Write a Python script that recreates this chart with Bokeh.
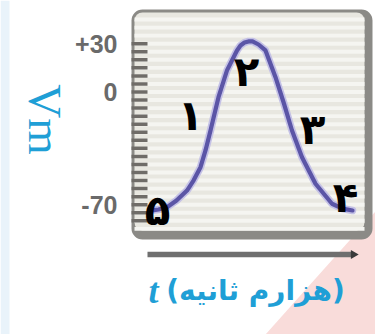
import math
from bokeh.plotting import figure
from bokeh.models import Range1d
from bokeh.core.properties import value
from bokeh.embed import file_html
from bokeh.resources import INLINE

# ---- data ----
TIME_MS = [0.04, 0.16, 0.33, 0.52, 0.73, 0.86, 1.00, 1.10, 1.20, 1.36, 1.53, 1.73,
           1.80, 1.88, 1.96, 2.04, 2.16, 2.30, 2.50, 2.67, 2.83, 3.03, 3.30, 3.63,
           3.84, 4.04]
POTENTIAL_MV = [-73.5, -73.0, -71.6, -67.4, -61.2, -55.0, -46.7, -36.3, -23.9, -3.2,
                13.4, 25.8, 28.9, 30.7, 31.4, 31.4, 29.5, 25.8, 9.2, -7.3, -23.9,
                -40.5, -57.0, -69.4, -72.4, -73.6]

Y_LABELED_TICKS = [30, 0, -70]
Y_TICK_LABELS = ["+30", "0", "-70"]
Y_MINOR_TICKS = list(range(-80, 35, 5))
STRIPES_MV = list(range(-85, 50, 5))

PHASE_LABELS = ["۱", "۲", "۳", "۴", "۵"]
PHASE_T = [0.80, 1.92, 3.24, 3.90, 0.14]
PHASE_MV = [-14.6, 12.7, -23.3, -65.5, -73.6]

Y_TITLE = "Vm"
X_TITLE_VAR = "t"
X_TITLE_UNIT = "(هزارم ثانیه)"

# ---- layout constants (data units) ----
X_MIN, X_MAX = -3.0, 4.5
Y_MIN, Y_MAX = -150.62, 56.83
BOX_L, BOX_R, BOX_T, BOX_B = -0.38, 4.44, 51.2, -91.6
IN_L, IN_R, IN_T, IN_B = -0.32, 4.28, 49.4, -86.0
TICK_X0, TICK_X1 = -0.38, -0.06
TICKLABEL_X = -0.66
AXIS_Y = -100.9
TITLE_Y = -123.3
CYAN = "#1f9fd6"

p = figure(width=375, height=334,
           x_range=Range1d(X_MIN, X_MAX), y_range=Range1d(Y_MIN, Y_MAX),
           output_backend="svg", toolbar_location=None,
           x_axis_location=None, y_axis_location=None,
           min_border_left=0, min_border_right=0, min_border_top=0,
           min_border_bottom=0)
p.outline_line_color = None
p.grid.visible = False
p.background_fill_color = "white"
p.border_fill_color = "white"

# pale page edge on the left and pink corner at bottom right
p.quad(left=[X_MIN], right=[-2.82], top=[Y_MAX], bottom=[Y_MIN],
       fill_color="#e9f3fa", line_color=None)
p.patch(x=[X_MAX, X_MAX, 2.30], y=[-74.2, Y_MIN, Y_MIN],
        fill_color="#f9dcda", line_color=None)

# framed box
p.quad(left=[BOX_L], right=[BOX_R], top=[BOX_T], bottom=[BOX_B],
       fill_color="#8b8a86", line_color=None, border_radius=11)
p.quad(left=[IN_L], right=[IN_R], top=[IN_T], bottom=[IN_B],
       fill_color="#e8e7e0", line_color=None, border_radius=8)
p.hbar(y=STRIPES_MV, left=IN_L, right=IN_R, height=2.4,
       fill_color="#f5f5f1", line_color=None)

# y ticks inside the box and their labels
p.segment(x0=TICK_X0, x1=TICK_X1, y0=Y_MINOR_TICKS, y1=Y_MINOR_TICKS,
          line_width=3.5, line_color="#6f6c68")
p.text(x=TICKLABEL_X, y=Y_LABELED_TICKS, text=Y_TICK_LABELS,
       text_font=value("Liberation Sans"), text_font_style="bold",
       text_font_size="25px", text_align="right", text_baseline="middle",
       text_color="#6a6a6a")

# time axis line with arrow
p.line(x=[-0.06, 4.02], y=[AXIS_Y, AXIS_Y], line_width=5.5, line_color="#6f6f6f")
p.scatter(x=[4.06], y=[AXIS_Y], marker="triangle", angle=-math.pi / 2,
          size=9, fill_color="#3a3a3a", line_color=None)

# action potential curve
p.line(TIME_MS, POTENTIAL_MV, line_width=7.5, line_color="#c4c1e6",
       line_join="round", line_cap="round")
p.line(TIME_MS, POTENTIAL_MV, line_width=4.2, line_color="#5b55a6",
       line_join="round", line_cap="round")

# phase numbers
p.text(x=PHASE_T, y=PHASE_MV, text=PHASE_LABELS,
       text_font=value("DejaVu Sans"), text_font_style="bold",
       text_font_size="42px", text_align="center", text_baseline="middle",
       text_color="black")

# x title
p.text(x=[0.06], y=[TITLE_Y], text=[X_TITLE_VAR],
       text_font=value("Liberation Serif"), text_font_style="bold italic",
       text_font_size="36px", text_align="center", text_baseline="middle",
       text_color=CYAN)
p.text(x=[2.1], y=[TITLE_Y], text=[X_TITLE_UNIT],
       text_font=value("DejaVu Sans"), text_font_style="bold",
       text_font_size="28px", text_align="center", text_baseline="middle",
       text_color=CYAN)

# y title (rotated clockwise)
p.text(x=[-2.12], y=[-17.1], text=[Y_TITLE], angle=-math.pi / 2,
       text_font=value("Liberation Serif"), text_font_size="47px",
       text_align="center", text_baseline="middle", text_color=CYAN)

open("out.html", "w").write(file_html(p, INLINE))
